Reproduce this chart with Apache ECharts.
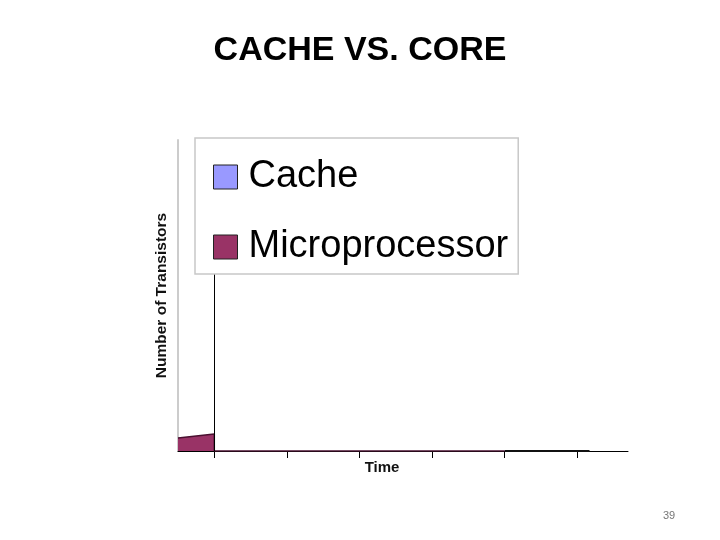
<!DOCTYPE html>
<html>
<head>
<meta charset="utf-8">
<script src="https://cdn.jsdelivr.net/npm/echarts@6/dist/echarts.min.js"></script>
<style>html,body{margin:0;padding:0;background:#fff;}#chart{width:720px;height:540px;}</style>
</head>
<body>
<div id="chart"></div>
<script>
// Data
const seriesNames = ['Cache', 'Microprocessor'];
const microTime = [-0.5, 0, 0, 4];
const microValues = [4.2, 5.5, 0, 0];
const cacheTime = [4, 5.17];
const cacheValues = [0, 0];
const tickTimes = [0, 1, 2, 3, 4, 5];
const markerTime = 0;

const chart = echarts.init(document.getElementById('chart'));
chart.setOption({
  backgroundColor: '#ffffff',
  animation: false,
  title: [
    {
      text: 'CACHE VS. CORE',
      left: 'center',
      top: 29,
      textStyle: { fontFamily: 'Liberation Sans', fontSize: 34, fontWeight: 'bold', color: '#000' }
    },
    {
      text: '39',
      left: 658,
      top: 505,
      textStyle: { fontFamily: 'Liberation Sans', fontSize: 11, fontWeight: 'normal', color: '#777' }
    }
  ],
  legend: {
    data: seriesNames,
    orient: 'vertical',
    left: 195,
    top: 138,
    z: 10,
    padding: [19, 10, 7, 18],
    itemGap: 30,
    itemWidth: 24,
    itemHeight: 24,
    icon: 'rect',
    backgroundColor: '#ffffff',
    borderColor: '#c8c8c8',
    borderWidth: 1.5,
    borderRadius: 0,
    itemStyle: { borderColor: '#222', borderWidth: 1 },
    textStyle: { fontFamily: 'Liberation Sans', fontSize: 38, color: '#000', lineHeight: 40, padding: [0, 0, 0, 6] }
  },
  grid: { left: 178, right: 92, top: 140, bottom: 89 },
  xAxis: {
    type: 'value',
    min: -0.5,
    max: 5.7,
    name: 'Time',
    nameLocation: 'middle',
    nameGap: 9,
    nameTextStyle: { fontFamily: 'Liberation Sans', fontSize: 15, fontWeight: 'bold', color: '#111', padding: [0, 42, 0, 0] },
    axisLine: { show: true, onZero: false, lineStyle: { color: '#000', width: 1 } },
    axisTick: { show: true, customValues: tickTimes, length: 7, lineStyle: { color: '#000', width: 1 } },
    axisLabel: { show: false },
    splitLine: { show: false }
  },
  yAxis: {
    type: 'value',
    min: 0,
    max: 100,
    name: 'Number of Transistors',
    nameLocation: 'middle',
    nameGap: 8,
    nameRotate: 90,
    nameTextStyle: { fontFamily: 'Liberation Sans', fontSize: 15.5, fontWeight: 'bold', color: '#111' },
    axisLine: { show: true, onZero: false, lineStyle: { color: '#cccccc', width: 2 } },
    axisTick: { show: false },
    axisLabel: { show: false },
    splitLine: { show: false }
  },
  series: [
    {
      name: 'Cache',
      type: 'line',
      data: cacheTime.map((t, i) => [t, cacheValues[i]]),
      symbol: 'none',
      color: '#9999ff',
      lineStyle: { color: '#111', width: 2 },
      areaStyle: { color: '#9999ff', opacity: 1 },
      markLine: {
        silent: true,
        symbol: 'none',
        label: { show: false },
        lineStyle: { color: '#000', width: 1, type: 'solid' },
        data: [{ xAxis: markerTime }]
      }
    },
    {
      name: 'Microprocessor',
      type: 'line',
      data: microTime.map((t, i) => [t, microValues[i]]),
      symbol: 'none',
      color: '#993366',
      lineStyle: { color: '#4a1030', width: 1.5 },
      areaStyle: { color: '#993366', opacity: 1 }
    }
  ]
});
</script>
</body>
</html>
